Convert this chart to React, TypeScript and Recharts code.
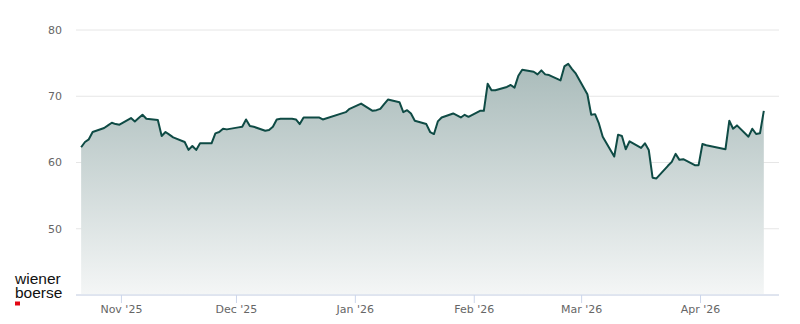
import { AreaChart, Area, XAxis, YAxis, CartesianGrid } from 'recharts';

const DAY = 86400000;

const tradeDates = [
  '2025-10-21', '2025-10-22', '2025-10-23', '2025-10-24', '2025-10-27', '2025-10-28', '2025-10-29', '2025-10-30', '2025-10-31',
  '2025-11-03', '2025-11-04', '2025-11-05', '2025-11-06', '2025-11-07', '2025-11-10', '2025-11-11', '2025-11-12', '2025-11-13',
  '2025-11-14', '2025-11-17', '2025-11-18', '2025-11-19', '2025-11-20', '2025-11-21', '2025-11-24', '2025-11-25', '2025-11-26',
  '2025-11-27', '2025-11-28', '2025-12-01', '2025-12-02', '2025-12-03', '2025-12-04', '2025-12-05', '2025-12-08', '2025-12-09',
  '2025-12-10', '2025-12-11', '2025-12-12', '2025-12-15', '2025-12-16', '2025-12-17', '2025-12-18', '2025-12-19', '2025-12-22',
  '2025-12-23', '2025-12-29', '2025-12-30', '2026-01-02', '2026-01-05', '2026-01-06', '2026-01-07', '2026-01-08', '2026-01-09',
  '2026-01-12', '2026-01-13', '2026-01-14', '2026-01-15', '2026-01-16', '2026-01-19', '2026-01-20', '2026-01-21', '2026-01-22',
  '2026-01-23', '2026-01-26', '2026-01-27', '2026-01-28', '2026-01-29', '2026-01-30', '2026-02-02', '2026-02-03', '2026-02-04',
  '2026-02-05', '2026-02-06', '2026-02-09', '2026-02-10', '2026-02-11', '2026-02-12', '2026-02-13', '2026-02-16', '2026-02-17',
  '2026-02-18', '2026-02-19', '2026-02-20', '2026-02-23', '2026-02-24', '2026-02-25', '2026-02-26', '2026-02-27', '2026-03-02',
  '2026-03-03', '2026-03-04', '2026-03-05', '2026-03-06', '2026-03-09', '2026-03-10', '2026-03-11', '2026-03-12', '2026-03-13',
  '2026-03-16', '2026-03-17', '2026-03-18', '2026-03-19', '2026-03-20', '2026-03-23', '2026-03-24', '2026-03-25', '2026-03-26',
  '2026-03-27', '2026-03-30', '2026-03-31', '2026-04-01', '2026-04-02', '2026-04-07', '2026-04-08', '2026-04-09', '2026-04-10',
  '2026-04-13', '2026-04-14', '2026-04-15', '2026-04-16', '2026-04-17',
];

const closePrices = [
  62.3, 63.1, 63.5, 64.6, 65.2, 65.6, 66.0, 65.8, 65.7,
  66.7, 66.2, 66.7, 67.2, 66.6, 66.4, 64.0, 64.6, 64.2,
  63.8, 63.1, 61.9, 62.5, 61.9, 62.9, 62.9, 64.4, 64.6,
  65.1, 65.0, 65.3, 65.4, 66.5, 65.5, 65.4, 64.8, 64.9,
  65.4, 66.5, 66.6, 66.6, 66.5, 65.8, 66.8, 66.8, 66.8,
  66.5, 67.6, 68.1, 68.9, 67.8, 67.9, 68.1, 68.8, 69.5,
  69.1, 67.6, 67.9, 67.4, 66.3, 65.8, 64.6, 64.3, 66.2,
  66.8, 67.4, 67.1, 66.8, 67.2, 66.9, 67.8, 67.8, 71.9,
  70.9, 70.9, 71.4, 71.7, 71.3, 73.1, 74.0, 73.7, 73.3,
  73.9, 73.3, 73.2, 72.4, 74.5, 74.9, 74.1, 73.4, 70.3,
  67.2, 67.3, 65.9, 63.9, 60.9, 64.2, 64.0, 62.0, 63.2,
  62.2, 62.9, 61.9, 57.7, 57.6, 59.5, 60.1, 61.3, 60.4,
  60.5, 59.6, 59.6, 62.8, 62.6, 62.0, 66.3, 65.1, 65.6,
  63.9, 65.1, 64.3, 64.4, 67.8,
];

const monthTicks = ['2025-11-01', '2025-12-01', '2026-01-01', '2026-02-01', '2026-03-01', '2026-04-01'];
const monthNames = ['Jan', 'Feb', 'Mar', 'Apr', 'May', 'Jun', 'Jul', 'Aug', 'Sep', 'Oct', 'Nov', 'Dec'];
const priceTicks = [50, 60, 70, 80];

const toTime = (d: string) => {
  const [y, m, dd] = d.split('-').map(Number);
  return Date.UTC(y, m - 1, dd);
};

const data = tradeDates.map((d, i) => ({ t: toTime(d) + DAY / 2, price: closePrices[i] }));
const xTicks = monthTicks.map(toTime);
const nov1 = toTime('2025-11-01');
const xDomain = [nov1 - 11.84 * DAY, nov1 + 171.46 * DAY];

const fmtMonth = (t: number) => {
  const d = new Date(t);
  return `${monthNames[d.getUTCMonth()]} '${String(d.getUTCFullYear()).slice(2)}`;
};

const axisFont = { fill: '#666666', fontSize: 11, fontFamily: 'DejaVu Sans' };

export default function App() {
  return (
    <div style={{ position: 'absolute', left: 0, top: 0, width: 800, height: 324, background: '#fff' }}>
      <AreaChart width={800} height={324} data={data} margin={{ top: 30, right: 21, bottom: 0, left: 0 }}>
        <defs>
          <linearGradient id="priceFill" x1="0" y1="0" x2="0" y2="1">
            <stop offset="0%" stopColor="#a9bbba" />
            <stop offset="100%" stopColor="#f4f6f6" />
          </linearGradient>
        </defs>
        <CartesianGrid vertical={false} stroke="#e6e6e6" />
        <XAxis
          type="number"
          dataKey="t"
          domain={xDomain}
          ticks={xTicks}
          interval={0}
          allowDataOverflow
          tickFormatter={fmtMonth}
          stroke="#ccd6eb"
          tick={axisFont}
          tickSize={8}
          tickMargin={2}
          height={29}
        />
        <YAxis
          domain={[40, 80]}
          ticks={priceTicks}
          axisLine={false}
          tickLine={false}
          width={76}
          tickMargin={8}
          tick={axisFont}
        />
        <Area
          type="linear"
          dataKey="price"
          stroke="#0f4b45"
          strokeWidth={2}
          strokeLinejoin="round"
          fill="url(#priceFill)"
          fillOpacity={1}
          isAnimationActive={false}
          dot={false}
          activeDot={false}
        />
      </AreaChart>
      <svg width={800} height={324} style={{ position: 'absolute', left: 0, top: 0, pointerEvents: 'none' }}>
        <text x={15} y={284} fontFamily="Liberation Sans" fontSize={15.5} fill="#111">wiener</text>
        <text x={15} y={297.5} fontFamily="Liberation Sans" fontSize={15.5} fill="#111">boerse</text>
        <rect x={15} y={301.5} width={5} height={4} fill="#e30613" />
      </svg>
    </div>
  );
}
